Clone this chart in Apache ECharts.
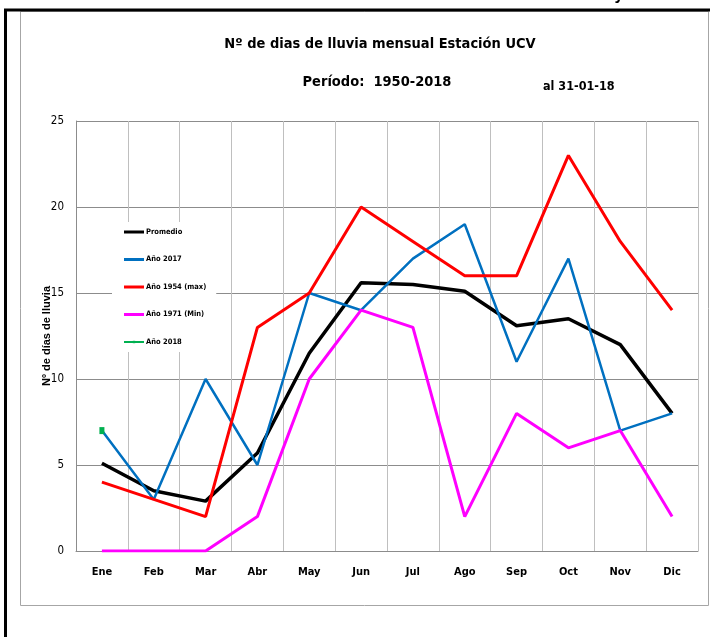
<!DOCTYPE html>
<html>
<head>
<meta charset="utf-8">
<script src="https://cdn.jsdelivr.net/npm/echarts@6/dist/echarts.min.js"></script>
<style>
  html, body { margin: 0; padding: 0; background: #fff; }
  #chart { width: 710px; height: 637px; }
</style>
</head>
<body>
<div id="chart"></div>
<script>
// months and y ticks
const meses = ['Ene', 'Feb', 'Mar', 'Abr', 'May', 'Jun', 'Jul', 'Ago', 'Sep', 'Oct', 'Nov', 'Dic'];
const yMin = 0, yMax = 25, yStep = 5;

// series values
const promedio = [5.1, 3.5, 2.9, 5.7, 11.5, 15.6, 15.5, 15.1, 13.1, 13.5, 12.0, 8.0];
const anio2017 = [7, 3, 10, 5, 15, 14, 17, 19, 11, 17, 7, 8];
const anio1954 = [4, 3, 2, 13, 15, 20, 18, 16, 16, 23, 18, 14];
const anio1971 = [0, 0, 0, 2, 10, 14, 13, 2, 8, 6, 7, 2];
const anio2018 = [7, null, null, null, null, null, null, null, null, null, null, null];

const narrow = '"DejaVu Sans Condensed", "Liberation Sans", sans-serif';

const chart = echarts.init(document.getElementById('chart'));

function linea (name, data, color, width) {
    return {
        name: name,
        type: 'line',
        data: data,
        symbol: 'none',
        lineStyle: { color: color, width: width },
        itemStyle: { color: color },
        z: 3
    };
}

chart.setOption({
    animation: false,
    backgroundColor: '#fff',
    graphic: [
        // grey frame of the chart area
        { type: 'rect', shape: { x: 20.5, y: 11.5, width: 688, height: 594 },
          style: { fill: null, stroke: '#a6a6a6', lineWidth: 1 }, z: 0 },
        // black outer border
        { type: 'rect', shape: { x: 5.5, y: 10, width: 720, height: 640 },
          style: { fill: null, stroke: '#000', lineWidth: 3 }, z: 0 },
        { type: 'text', left: 614, top: -12,
          style: { text: 'y', font: 'bold 16px ' + narrow, fill: '#000' } }
    ],
    title: [
        {
            text: 'Nº de dias de lluvia mensual Estación UCV',
            left: 375, top: 32, textAlign: 'center',
            textStyle: { fontFamily: narrow, fontSize: 14.5, fontWeight: 'bold', color: '#000' }
        },
        {
            text: 'Período:  1950-2018',
            left: 372, top: 70, textAlign: 'center',
            textStyle: { fontFamily: narrow, fontSize: 14.5, fontWeight: 'bold', color: '#000' }
        },
        {
            text: 'al 31-01-18',
            left: 538, top: 75,
            textStyle: { fontFamily: narrow, fontSize: 12.5, fontWeight: 'bold', color: '#000' }
        }
    ],
    legend: {
        orient: 'vertical',
        left: 112, top: 222,
        padding: [5, 10, 5, 11],
        backgroundColor: '#fff',
        itemWidth: 20,
        itemHeight: 3,
        itemGap: 17.5,
        textStyle: { fontFamily: narrow, fontSize: 7.5, fontWeight: 'bold', color: '#000', lineHeight: 10, padding: [0, 0, 0, -3] },
        data: [
            { name: 'Promedio', icon: 'rect' },
            { name: 'Año 2017', icon: 'rect' },
            { name: 'Año 1954 (max)', icon: 'rect' },
            { name: 'Año 1971 (Min)', icon: 'rect' },
            { name: 'Año 2018' }
        ],
        z: 10
    },
    grid: { left: 76, right: 12, top: 121, bottom: 86 },
    xAxis: {
        type: 'category',
        data: meses,
        boundaryGap: true,
        axisLine: { lineStyle: { color: '#8c8c8c', width: 1 } },
        axisTick: { show: false },
        axisLabel: { margin: 16, fontFamily: narrow, fontSize: 11, fontWeight: 'bold', color: '#000' },
        splitLine: { show: true, lineStyle: { color: '#bfbfbf', width: 1 } }
    },
    yAxis: {
        type: 'value',
        min: yMin, max: yMax, interval: yStep,
        name: 'Nº de días de lluvia',
        nameLocation: 'middle',
        nameRotate: 90,
        nameGap: 24,
        nameMoveOverlap: false,
        nameTextStyle: { fontFamily: '"Liberation Sans", Arial, sans-serif', fontSize: 11, fontWeight: 'bold', color: '#000' },
        axisLine: { show: true, lineStyle: { color: '#8c8c8c', width: 1 } },
        axisTick: { show: false },
        axisLabel: { margin: 12, fontFamily: narrow, fontSize: 11.5, color: '#000' },
        splitLine: { show: true, lineStyle: { color: '#8c8c8c', width: 1 } }
    },
    series: [
        linea('Promedio', promedio, '#000000', 3.5),
        linea('Año 2017', anio2017, '#0070c0', 2.5),
        linea('Año 1954 (max)', anio1954, '#ff0000', 3),
        linea('Año 1971 (Min)', anio1971, '#ff00ff', 3),
        {
            name: 'Año 2018',
            type: 'line',
            data: anio2018,
            symbol: 'rect',
            symbolSize: [5, 7],
            lineStyle: { color: '#00b050', width: 3 },
            itemStyle: { color: '#00b050' },
            z: 4
        }
    ]
});
</script>
</body>
</html>
